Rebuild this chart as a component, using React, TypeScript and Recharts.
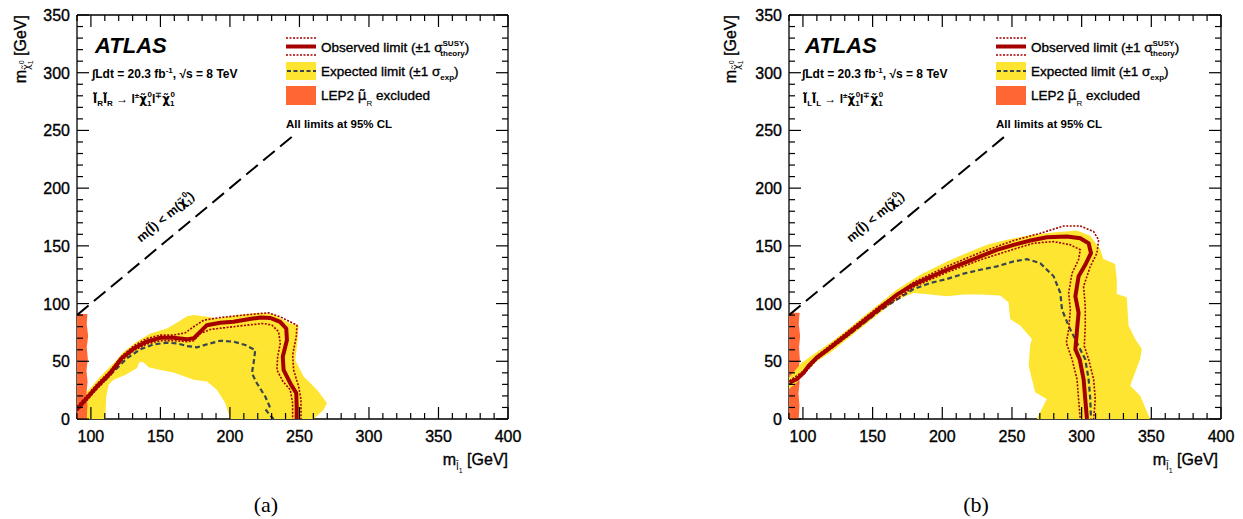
import React from 'react';
import { ComposedChart, Scatter, XAxis, YAxis } from 'recharts';

// colours picked off the ATLAS plot
const YELLOW = '#fee531';
const ORANGE = '#ff6634';
const RED = '#a50000';
const EXPCOL = '#36454f';
const FONT = '"Liberation Sans", Arial, Helvetica, sans-serif';
const MARKFONT = '"DejaVu Sans", sans-serif'; // handles the combining tildes better

// axis ticks
const X_TICKS = Array.from({ length: 32 }, (_, i) => 90 + i * 10);
const Y_TICKS = Array.from({ length: 36 }, (_, i) => i * 10);

// kinematic boundary m(slepton) = m(chi)
const kinLine = [[90, 90], [247, 247]];

// ---- (a) right-handed sleptons ----
const bandA = [
  [90, 0], [90, 15], [99.5, 26.7], [106.7, 36.8], [116.3, 48.3], [123.5, 58.3], [133, 67], [142.7, 74],
  [154.7, 78.4], [163, 84.2], [169, 89], [174, 90], [183.5, 88.5], [190.6, 87], [197.8, 88.5], [209.8, 90.8],
  [221.8, 92], [231.4, 90.8], [243.4, 82.8], [249.4, 81.3], [248.7, 68.4], [247, 51], [253, 36.8], [262.6, 25.3],
  [269.8, 13.8], [267.4, 8], [260.2, 0], [200.2, 0], [196.6, 13.8], [190.6, 25.3], [183.5, 32.5], [174, 34],
  [169, 36.2], [159.5, 40.2], [150, 42.5], [141.5, 44.8], [138, 49], [135, 49.7], [133, 44], [124.7, 38.2],
  [116.3, 34], [112.7, 29.6], [111, 19.5], [110.3, 0],
];
const lepA = [
  [90, 0], [90, 91], [97.5, 91], [97, 82], [98, 72], [97, 62], [97.8, 52], [96.8, 42], [97.6, 32], [96.8, 22],
  [97.5, 12], [97, 0],
];
const obsA = [
  [90, 8.5], [97, 18], [104.3, 28], [114, 40], [122, 52.6], [130.7, 61], [140, 67], [150, 70.4], [159.5, 70.4],
  [169, 69], [174, 70], [178.7, 75.6], [183.5, 81.3], [193, 83.3], [202.6, 84.2], [212, 86.2], [222, 88],
  [229, 87.6], [236, 84.2], [240.5, 78.4], [241, 68.4], [238, 54], [238.6, 42.5], [243.4, 31], [247.7, 22.4],
  [248, 11], [248, 0],
];
const obsUpA = [
  [90, 10.9], [97.1, 20.1], [104.3, 30.2], [113.9, 41.7], [122.3, 54.6], [130.7, 63.2], [140.3, 69.8],
  [149.9, 72.7], [159.5, 72.7], [167.9, 74.7], [173.9, 79.9], [181.1, 85.6], [193, 87.9], [207.4, 89.7],
  [221.8, 91.4], [227.8, 92], [236.2, 88.5], [248.2, 81.3], [247.7, 71.3], [245.1, 55.5], [245.8, 42.5],
  [249.4, 28.2], [251.1, 16.7], [251.1, 0],
];
const obsDownA = [
  [90, 7], [97.1, 16], [104.3, 26], [113.9, 37.6], [122.3, 50.6], [130.7, 59.2], [140.3, 65], [149.9, 67.8],
  [159.5, 67.8], [169.1, 67], [173.9, 67.8], [178.7, 74.1], [185.9, 77.6], [197.8, 79.3], [212.2, 81.3],
  [224.2, 82.8], [230.2, 81.3], [235, 75.6], [236.2, 65.5], [234.3, 54], [233.8, 42.5], [238.1, 32.5],
  [243.4, 25.3], [245.1, 13.8], [245.1, 0],
];
const expA = [
  [90, 8], [97.1, 18.1], [106.7, 29.6], [116.3, 41.1], [125.9, 52.6], [135.5, 60.3], [145.1, 64.7],
  [154.7, 66.1], [161.9, 65.5], [169.1, 63.2], [176.3, 62.1], [183.5, 64.7], [193, 67.8], [202.6, 67],
  [211, 64.1], [218.2, 59.8], [217, 48.3], [215.8, 39.7], [219.4, 31], [225.4, 19.5], [228.5, 10.9],
  [226.1, 7.5], [228.5, 3.7], [231.4, 0],
];

// ---- (b) left-handed sleptons ----
const bandB = [
  [90, 26], [90, 36], [99.3, 48.9], [107.7, 56], [119.6, 66.1], [131.6, 77], [143.5, 89.1], [155.5, 100.6],
  [167.5, 112.1], [184.2, 125], [203.3, 136.5], [220.1, 145.1], [232, 150.9], [246.4, 155.2], [263.2, 159.5],
  [279.9, 161.5], [296.5, 163.2], [306.1, 158.8], [313.3, 147.3], [315.6, 138.6], [324, 134.3], [325.2, 121.3],
  [325.2, 108.3], [332.4, 105.5], [333.6, 80.9], [338.4, 69.3], [343.2, 60.7], [342, 52], [334.8, 28.9],
  [342, 20.2], [349.1, 0], [267.8, 0], [275, 17.3], [266.6, 23.1], [264.3, 34.7], [262, 46], [263, 63.5],
  [264.3, 69.3], [255.9, 80.9], [248.7, 86.7], [247.5, 101.1], [241.5, 106.9], [227.3, 107.8], [215.3, 107.8],
  [203.3, 106.3], [191.4, 107.8], [179.4, 109.2], [167.5, 103.4], [155.5, 92], [143.5, 80.5], [131.6, 69],
  [119.6, 57.5], [110, 50], [104, 43], [100, 38], [96, 32],
];
const lepB = [
  [90, 0], [90, 92], [97.6, 92], [97, 82], [98, 72], [97.2, 62], [97.8, 52], [96.8, 42], [97.6, 32],
  [96.8, 22], [97.5, 12], [97, 0],
];
const obsB = [
  [90.4, 31.6], [95.7, 34.5], [100.5, 40.2], [104.1, 46], [110, 53.2], [119.6, 61.8], [131.6, 73.3],
  [143.5, 84.8], [155.5, 96.3], [167.5, 107.8], [179.4, 116.4], [191.4, 123], [203.3, 129.3], [215.3, 135],
  [227.3, 140.8], [239.2, 146.6], [251.2, 150.9], [263.2, 154.6], [275.1, 157.5], [289.5, 158], [299, 156.6],
  [305, 152.3], [306.7, 143.7], [302.6, 133.6], [297.8, 123.6], [295.5, 106.3], [297.8, 92], [296.7, 77.6],
  [295.5, 60.3], [298.6, 51.7], [301.4, 34.5], [302.6, 17.2], [303.8, 0],
];
const obsUpB = [
  [90.4, 33], [100.5, 41.7], [110, 54.6], [131.6, 75.3], [155.5, 98.3], [179.4, 118.4], [203.3, 132.2],
  [227.3, 144.3], [251.2, 154.6], [270.3, 160.9], [287.1, 167.2], [299, 167.2], [308.6, 162.4], [312.2, 155.2],
  [311, 143.7], [306.2, 132.2], [301.4, 114.9], [302.6, 97.7], [302.6, 80.5], [301.9, 63.2], [305, 51.7],
  [308.6, 34.5], [309.8, 17.2], [308.6, 0],
];
const obsDownB = [
  [90.4, 30.2], [100.5, 38.8], [110, 51.7], [131.6, 71.3], [155.5, 94.3], [179.4, 114.4], [203.3, 127],
  [227.3, 137.9], [251.2, 147.1], [265.6, 152.3], [279.9, 153.7], [291.9, 150.9], [299, 146.6], [297.8, 138],
  [293.1, 126.4], [290.7, 109.2], [291.9, 94.8], [290.7, 77.6], [289, 66.1], [293.1, 51.7], [296.7, 34.5],
  [297.8, 17.2], [299, 0],
];
const expB = [
  [90.4, 30.2], [100.5, 39.7], [110, 52.3], [131.6, 71.8], [155.5, 94.3], [179.4, 112.6], [191.4, 117.8],
  [203.3, 121.3], [215.3, 125.9], [227.3, 129.3], [239.2, 132.2], [251.2, 136.5], [260.8, 138.5], [270.3, 135],
  [279.9, 123.6], [284.7, 109.2], [285.9, 94.8], [290.7, 80.5], [297.8, 63.2], [302.6, 51.7], [305, 34.5],
  [306.2, 17.2], [306.7, 0],
];

const pts = (a: number[][]) => a.map(([x, y]) => ({ x, y }));
const noDot = () => <g />;

// ROOT-ish text: regular face with a hairline stroke so it reads a bit heavier
const heavy = { stroke: '#000', strokeWidth: 0.35 };

const BottomTick = (p: any) => {
  const v = p.payload.value;
  const major = v % 50 === 0;
  return (
    <g>
      <line x1={p.x} x2={p.x} y1={p.y} y2={p.y - (major ? 12 : 6)} stroke="#000" strokeWidth={1.2} />
      {major && (
        <text x={p.x} y={p.y + 23} textAnchor="middle" fontSize={16} fontFamily={FONT} fill="#000" {...heavy}>{v}</text>
      )}
    </g>
  );
};
const TopTick = (p: any) => {
  const major = p.payload.value % 50 === 0;
  return <line x1={p.x} x2={p.x} y1={p.y} y2={p.y + (major ? 12 : 6)} stroke="#000" strokeWidth={1.2} />;
};
const LeftTick = (p: any) => {
  const v = p.payload.value;
  const major = v % 50 === 0;
  return (
    <g>
      <line x1={p.x} x2={p.x + (major ? 12 : 6)} y1={p.y} y2={p.y} stroke="#000" strokeWidth={1.2} />
      {major && (
        <text x={p.x - 7} y={p.y + 6} textAnchor="end" fontSize={16} fontFamily={FONT} fill="#000" {...heavy}>{v}</text>
      )}
    </g>
  );
};
const RightTick = (p: any) => {
  const major = p.payload.value % 50 === 0;
  return <line x1={p.x} x2={p.x - (major ? 12 : 6)} y1={p.y} y2={p.y} stroke="#000" strokeWidth={1.2} />;
};

interface PanelProps {
  band: number[][];
  lep: number[][];
  obs: number[][];
  up: number[][];
  down: number[][];
  exp: number[][];
  width: number;
  margin: { top: number; right: number; bottom: number; left: number };
  lepFirst?: boolean;
}

// each axis takes 1px of room, margins are cut by 1 to keep the frame in place
const Panel: React.FC<PanelProps> = ({ band, lep, obs, up, down, exp, width, margin, lepFirst }) => {
  const lepSeries = (
    <Scatter data={pts(lep)} isAnimationActive={false} shape={noDot} line={{ fill: ORANGE, stroke: 'none' }} lineJointType="linearClosed" />
  );
  const axisLine = { stroke: '#000', strokeWidth: 1.3 };
  return (
    <ComposedChart width={width} height={519} margin={margin}>
      {lepFirst && lepSeries}
      <Scatter data={pts(band)} isAnimationActive={false} shape={noDot} line={{ fill: YELLOW, stroke: 'none' }} lineJointType="linearClosed" />
      {!lepFirst && lepSeries}
      <Scatter data={pts(kinLine)} isAnimationActive={false} shape={noDot} line={{ stroke: '#000', strokeWidth: 2, strokeDasharray: '15 7' }} lineJointType="linear" />
      <Scatter data={pts(exp)} isAnimationActive={false} shape={noDot} line={{ stroke: EXPCOL, strokeWidth: 2.2, strokeDasharray: '5 3' }} lineJointType="linear" />
      <Scatter data={pts(up)} isAnimationActive={false} shape={noDot} line={{ stroke: RED, strokeWidth: 1.6, strokeDasharray: '2 1.5' }} lineJointType="linear" />
      <Scatter data={pts(down)} isAnimationActive={false} shape={noDot} line={{ stroke: RED, strokeWidth: 1.6, strokeDasharray: '2 1.5' }} lineJointType="linear" />
      <Scatter data={pts(obs)} isAnimationActive={false} shape={noDot} line={{ stroke: RED, strokeWidth: 4 }} lineJointType="linear" />
      <XAxis type="number" dataKey="x" domain={[90, 400]} allowDataOverflow ticks={X_TICKS} interval={0} height={1}
        tickSize={0} tickMargin={0} tickLine={false} axisLine={axisLine} tick={BottomTick} />
      <XAxis xAxisId="top" orientation="top" type="number" dataKey="x" domain={[90, 400]} allowDataOverflow ticks={X_TICKS}
        interval={0} height={1} tickSize={0} tickMargin={0} tickLine={false} axisLine={axisLine} tick={TopTick} />
      <YAxis type="number" dataKey="y" domain={[0, 350]} allowDataOverflow ticks={Y_TICKS} interval={0} width={1}
        tickSize={0} tickMargin={0} tickLine={false} axisLine={axisLine} tick={LeftTick} />
      <YAxis yAxisId="right" orientation="right" type="number" dataKey="y" domain={[0, 350]} allowDataOverflow ticks={Y_TICKS}
        interval={0} width={1} tickSize={0} tickMargin={0} tickLine={false} axisLine={axisLine} tick={RightTick} />
    </ComposedChart>
  );
};

// ATLAS labels, legend and axis titles for one panel (dx shifts to panel b)
const Labels: React.FC<{ dx: number; hand: string; caption: string }> = ({ dx, hand, caption }) => (
  <g transform={`translate(${dx},0)`} fontFamily={FONT} fill="#000">
    <text x={95} y={53} fontSize={22} fontWeight="bold" fontStyle="italic">ATLAS</text>
    <text x={92} y={78} fontSize={12} fontWeight="bold">
      ∫Ldt = 20.3 fb<tspan dy={-5} fontSize={8}>-1</tspan><tspan dy={5}>, √s = 8 TeV</tspan>
    </text>
    <text x={93} y={103} fontSize={12} fontWeight="bold">
      <tspan fontFamily={MARKFONT}>l̃</tspan><tspan fontSize={8} dy={3}>{hand}</tspan>
      <tspan dy={-3} fontFamily={MARKFONT}>l̃</tspan><tspan fontSize={8} dy={3}>{hand}</tspan>
      <tspan dy={-3}> → l</tspan><tspan fontSize={8} dy={-5}>±</tspan><tspan dy={5} fontFamily={MARKFONT}>χ̃</tspan>
      <tspan fontSize={8} dy={3}>1</tspan><tspan fontSize={8} dx={-4} dy={-9}>0</tspan>
      <tspan dy={6}>l</tspan><tspan fontSize={8} dy={-5}>∓</tspan><tspan dy={5} fontFamily={MARKFONT}>χ̃</tspan>
      <tspan fontSize={8} dy={3}>1</tspan><tspan fontSize={8} dx={-4} dy={-9}>0</tspan>
    </text>

    {/* legend */}
    <line x1={286} x2={316} y1={38} y2={38} stroke={RED} strokeWidth={1.6} strokeDasharray="2 1.5" />
    <line x1={286} x2={316} y1={46.5} y2={46.5} stroke={RED} strokeWidth={4} />
    <line x1={286} x2={316} y1={55} y2={55} stroke={RED} strokeWidth={1.6} strokeDasharray="2 1.5" />
    <text x={321} y={52} fontSize={13.5} {...heavy}>
      Observed limit (±1 σ<tspan fontSize={8} dy={-6} fontWeight="bold" strokeWidth={0}>SUSY</tspan>
      <tspan fontSize={8} dx={-24} dy={10} fontWeight="bold" strokeWidth={0}>theory</tspan><tspan dy={-4}>)</tspan>
    </text>
    <rect x={286} y={62} width={30} height={18} fill={YELLOW} />
    <line x1={287} x2={316} y1={71} y2={71} stroke={EXPCOL} strokeWidth={1.8} strokeDasharray="4 2.5" />
    <text x={321} y={76} fontSize={13.5} {...heavy}>
      Expected limit (±1 σ<tspan fontSize={8} dy={4} fontWeight="bold" strokeWidth={0}>exp</tspan><tspan dy={-4}>)</tspan>
    </text>
    <rect x={286} y={86} width={30} height={19} fill={ORANGE} />
    <text x={321} y={100} fontSize={13.5} {...heavy}>
      LEP2 <tspan fontFamily={MARKFONT}>μ̃</tspan><tspan fontSize={8} dy={6} strokeWidth={0}>R</tspan><tspan dy={-6}> excluded</tspan>
    </text>
    <text x={286} y={128} fontSize={11.5} fontWeight="bold">All limits at 95% CL</text>

    {/* kinematic boundary label */}
    <text transform="translate(168,220) rotate(-40)" textAnchor="middle" fontSize={12.5} fontWeight="bold">
      m(<tspan fontFamily={MARKFONT}>l̃</tspan>) &lt; m(<tspan fontFamily={MARKFONT}>χ̃</tspan><tspan fontSize={8} dy={3}>1</tspan>
      <tspan fontSize={8} dx={-4} dy={-9}>0</tspan><tspan dy={6}>)</tspan>
    </text>

    {/* axis titles */}
    <text transform="translate(26,15) rotate(-90)" textAnchor="end" fontSize={16} {...heavy}>
      m<tspan fontSize={10} dy={4} fontFamily={MARKFONT} strokeWidth={0}>χ̃</tspan><tspan fontSize={7} dy={3} strokeWidth={0}>1</tspan>
      <tspan fontSize={7} dx={-4} dy={-9} strokeWidth={0}>0</tspan><tspan dy={2}> [GeV]</tspan>
    </text>
    <text x={508} y={465} textAnchor="end" fontSize={16} {...heavy}>
      m<tspan fontSize={10} dy={5} fontFamily={MARKFONT} strokeWidth={0}>l̃</tspan><tspan fontSize={7} dy={3} strokeWidth={0}>1</tspan>
      <tspan dy={-8}> [GeV]</tspan>
    </text>

    <text x={266} y={512} textAnchor="middle" fontSize={22} fontFamily='"Liberation Serif", "DejaVu Serif", serif'>
      {caption}
    </text>
  </g>
);

export default function App() {
  return (
    <div style={{ position: 'absolute', left: 0, top: 0, width: 1243, height: 519, background: '#fff' }}>
      <div style={{ position: 'absolute', left: 0, top: 0 }}>
        <Panel band={bandA} lep={lepA} obs={obsA} up={obsUpA} down={obsDownA} exp={expA}
          width={620} margin={{ top: 14, right: 111, bottom: 99, left: 76 }} />
      </div>
      <div style={{ position: 'absolute', left: 620, top: 0 }}>
        <Panel band={bandB} lep={lepB} obs={obsB} up={obsUpB} down={obsDownB} exp={expB}
          width={623} margin={{ top: 14, right: 21, bottom: 99, left: 168 }} lepFirst />
      </div>
      <svg width={1243} height={519} style={{ position: 'absolute', left: 0, top: 0, pointerEvents: 'none' }}>
        <Labels dx={0} hand="R" caption="(a)" />
        <Labels dx={710} hand="L" caption="(b)" />
      </svg>
    </div>
  );
}
